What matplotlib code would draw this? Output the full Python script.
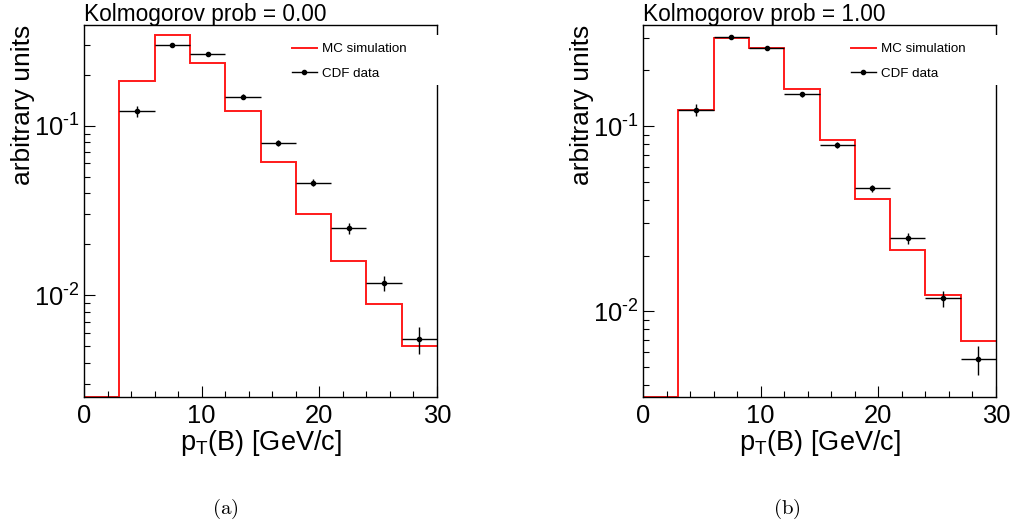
import numpy as np
import matplotlib
matplotlib.use("Agg")
import matplotlib.pyplot as plt
from matplotlib.lines import Line2D
from matplotlib.patches import Rectangle
from matplotlib.ticker import LogLocator, MultipleLocator, NullFormatter, FuncFormatter

plt.rcParams['font.family'] = ['Liberation Sans', 'DejaVu Sans']
plt.rcParams['mathtext.fontset'] = 'custom'
plt.rcParams['mathtext.rm'] = 'Liberation Sans'
plt.rcParams['mathtext.it'] = 'Liberation Sans:italic'
plt.rcParams['mathtext.bf'] = 'Liberation Sans:bold'

# ================== DATA ==================

bin_edges = np.arange(0, 33, 3)           # p_T bins, GeV/c
bin_centers = np.arange(4.5, 30, 3)       # data points (first MC bin empty)

mc_a = [0.0, 0.185, 0.345, 0.234, 0.122, 0.0613, 0.0301, 0.0159, 0.0089, 0.00505]
mc_b = [0.0, 0.122, 0.299, 0.263, 0.158, 0.084, 0.0403, 0.0214, 0.0122, 0.0069]

cdf_data = [0.1226, 0.302, 0.264, 0.149, 0.0791, 0.0463, 0.0248, 0.01174, 0.0055]
cdf_relerr = [0.075, 0.025, 0.025, 0.03, 0.04, 0.045, 0.07, 0.10, 0.18]

kolmogorov = ["0.00", "1.00"]
ylims = [(0.00251, 0.394), (0.00344, 0.352)]
panel_tags = ["(a)", "(b)"]


def root_log_label(v, pos):
    # ROOT writes 10^{-1} with a plain hyphen
    e = int(round(np.log10(v)))
    return r"$10^{\text{%d}}$" % e


# ================== PLOT ==================

fig = plt.figure(figsize=(10.16, 5.27), dpi=100)

W, H = 1016, 527
ax_left_px = [84, 643]
ax_top, ax_bot, ax_w = 25, 397, 353

for i, mc in enumerate([mc_a, mc_b]):
    ax = fig.add_axes([ax_left_px[i] / W, 1 - ax_bot / H, ax_w / W, (ax_bot - ax_top) / H])
    ymin, ymax = ylims[i]

    ax.set_yscale('log')
    ax.set_xlim(0, 30)
    ax.set_ylim(ymin, ymax)

    # MC histogram, empty bins drawn on the bottom edge like ROOT does
    ax.stairs(np.maximum(mc, ymin), bin_edges, baseline=None, color='#ff1a1a', lw=1.4)

    data = np.array(cdf_data)
    ax.errorbar(bin_centers, data, xerr=1.5, yerr=data * np.array(cdf_relerr),
                fmt='o', ms=3, color='black', elinewidth=1.0, capsize=0)

    # ticks
    ax.xaxis.set_major_locator(MultipleLocator(10))
    ax.xaxis.set_minor_locator(MultipleLocator(2))
    ax.yaxis.set_major_locator(LogLocator(base=10))
    ax.yaxis.set_major_formatter(FuncFormatter(root_log_label))
    ax.yaxis.set_minor_locator(LogLocator(base=10, subs=np.arange(2, 10)))
    ax.yaxis.set_minor_formatter(NullFormatter())
    ax.tick_params(which='both', direction='in', top=False, right=False, width=0.8)
    ax.tick_params(which='major', length=8, labelsize=18.4)
    ax.tick_params(which='minor', length=4)
    ax.tick_params(axis='x', pad=5)
    ax.tick_params(axis='y', pad=3)
    for s in ax.spines.values():
        s.set_linewidth(1.0)

    ax.text(0.0, 1.0 + 4 / 372, "Kolmogorov prob = " + kolmogorov[i],
            transform=ax.transAxes, ha='left', va='baseline', fontsize=16.3)
    ax.text(-0.173, 1.0, "arbitrary units", rotation=90, transform=ax.transAxes,
            ha='center', va='top', fontsize=19)
    ax.text(0.5, -0.142, r"p$_{\mathrm{T}}$(B) [GeV/c]", transform=ax.transAxes,
            ha='center', va='baseline', fontsize=19.5)

    # legend box sits over the right frame, as in the ROOT canvas
    ax.add_patch(Rectangle((0.555, 0.839), 0.47, 0.134, transform=ax.transAxes,
                           facecolor='white', edgecolor='none', clip_on=False, zorder=4))
    handles = [Line2D([], [], color='#ff1a1a', lw=1.4),
               Line2D([], [], color='black', lw=1.0, marker='o', ms=3)]
    leg = ax.legend(handles, ["MC simulation", "CDF data"], loc='upper left',
                    bbox_to_anchor=(0.589, 0.952), frameon=False, fontsize=9.6,
                    borderpad=0, borderaxespad=0, handlelength=1.87,
                    handletextpad=0.4, labelspacing=0.93)
    leg.set_zorder(5)

    fig.text([225, 787][i] / W, 1 - 509 / H, r"$\mathrm{" + panel_tags[i] + "}$",
             ha='center', va='center', fontsize=15, math_fontfamily='cm')

fig.savefig("out.png", dpi=100)
